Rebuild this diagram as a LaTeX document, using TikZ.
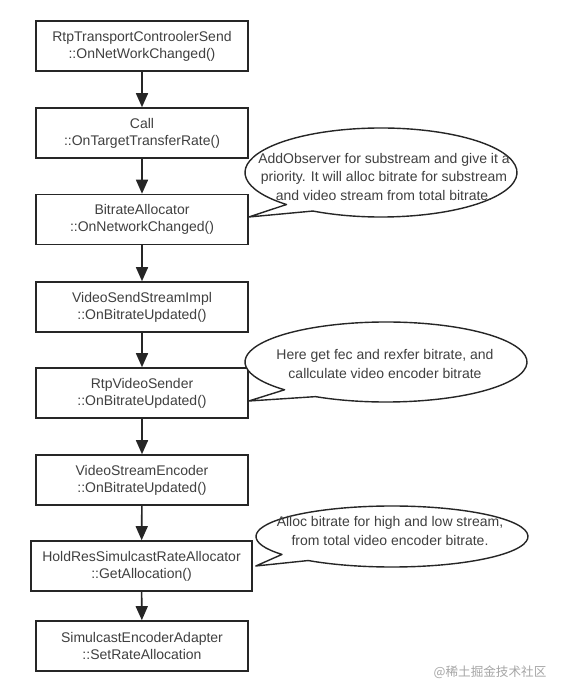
\documentclass[tikz,border=0pt]{standalone}
\usepackage{fontspec}
\setmainfont{Liberation Sans}
\newfontfamily\cjk{Noto Sans CJK SC}
\usetikzlibrary{arrows.meta,calc}
\begin{document}
\begin{tikzpicture}[x=1pt,y=1pt,
  fbox/.style={draw=black!85, line width=1.6pt, minimum width=212pt, minimum height=50pt, align=center, font=\fontsize{14}{17}\selectfont, text=black!75, inner sep=0pt},
  flow/.style={draw=black!85, line width=1.6pt, -{Triangle[length=14pt,width=12pt]}},
  balloon/.style={draw=black!85, line width=1.4pt, fill=white, line join=round},
  btext/.style={align=center, font=\fontsize{14}{18.5}\selectfont, text=black!75, inner sep=0pt}]
\useasboundingbox (0,0) rectangle (561,697);
\fill[white] (0,0) rectangle (561,697);
% flow boxes
\node[fbox] (n1) at (142,651) {RtpTransportControolerSend\\::OnNetWorkChanged()};
\node[fbox] (n2) at (142,564) {Call\\::OnTargetTransferRate()};
\node[fbox] (n3) at (142,477.5) {BitrateAllocator\\::OnNetworkChanged()};
\node[fbox] (n4) at (142,390) {VideoSendStreamImpl\\::OnBitrateUpdated()};
\node[fbox] (n5) at (142,304) {RtpVideoSender\\::OnBitrateUpdated()};
\node[fbox] (n6) at (142,217) {VideoStreamEncoder\\::OnBitrateUpdated()};
\node[fbox, minimum width=221pt] (n7) at (141.5,131) {HoldResSimulcastRateAllocator\\::GetAllocation()};
\node[fbox] (n8) at (142,51) {SimulcastEncoderAdapter\\::SetRateAllocation};
% connectors
\draw[flow] (n1) -- (n2);
\draw[flow] (n2) -- (n3);
\draw[flow] (n3) -- (n4);
\draw[flow] (n4) -- (n5);
\draw[flow] (n5) -- (n6);
\draw[flow] (n6) -- (n7);
\draw[flow] (n7) -- (n8);
% callout 1
\coordinate (b1c) at (381,524.5);
\coordinate (t1) at ($(n3.east)+(0,2.5)$);
\draw[balloon] (b1c) ++(240:136 and 44.5) arc[start angle=240, end angle=586, x radius=136pt, y radius=44.5pt] -- (t1) -- cycle;
\node[btext] (c1) at (384,520) {AddObserver for substream and give it a\\priority. It will alloc bitrate for substream\\and video stream from total bitrate.};
% callout 2
\coordinate (b2c) at (386,335);
\coordinate (t2) at ($(n5.east)+(0,-8)$);
\draw[balloon] (b2c) ++(240:141 and 40) arc[start angle=240, end angle=584, x radius=141pt, y radius=40pt] -- (t2) -- cycle;
\node[btext] (c2) at (385,333) {Here get fec and rexfer bitrate, and\\callculate video encoder bitrate};
% callout 3
\coordinate (b3c) at (392,160.5);
\coordinate (t3) at ($(n7.east)+(3,0)$);
\draw[balloon] (b3c) ++(232:136 and 30.5) arc[start angle=232, end angle=576, x radius=136pt, y radius=30.5pt] -- (t3) -- cycle;
\node[btext] (c3) at (390,166) {Alloc bitrate for high and low stream,\\from total video encoder bitrate.};
% watermark
\node[text=black!35, font=\cjk\fontsize{12.6}{14}\selectfont, inner sep=0pt] (wm) at (490,25) {@稀土掘金技术社区};
\end{tikzpicture}
\end{document}
